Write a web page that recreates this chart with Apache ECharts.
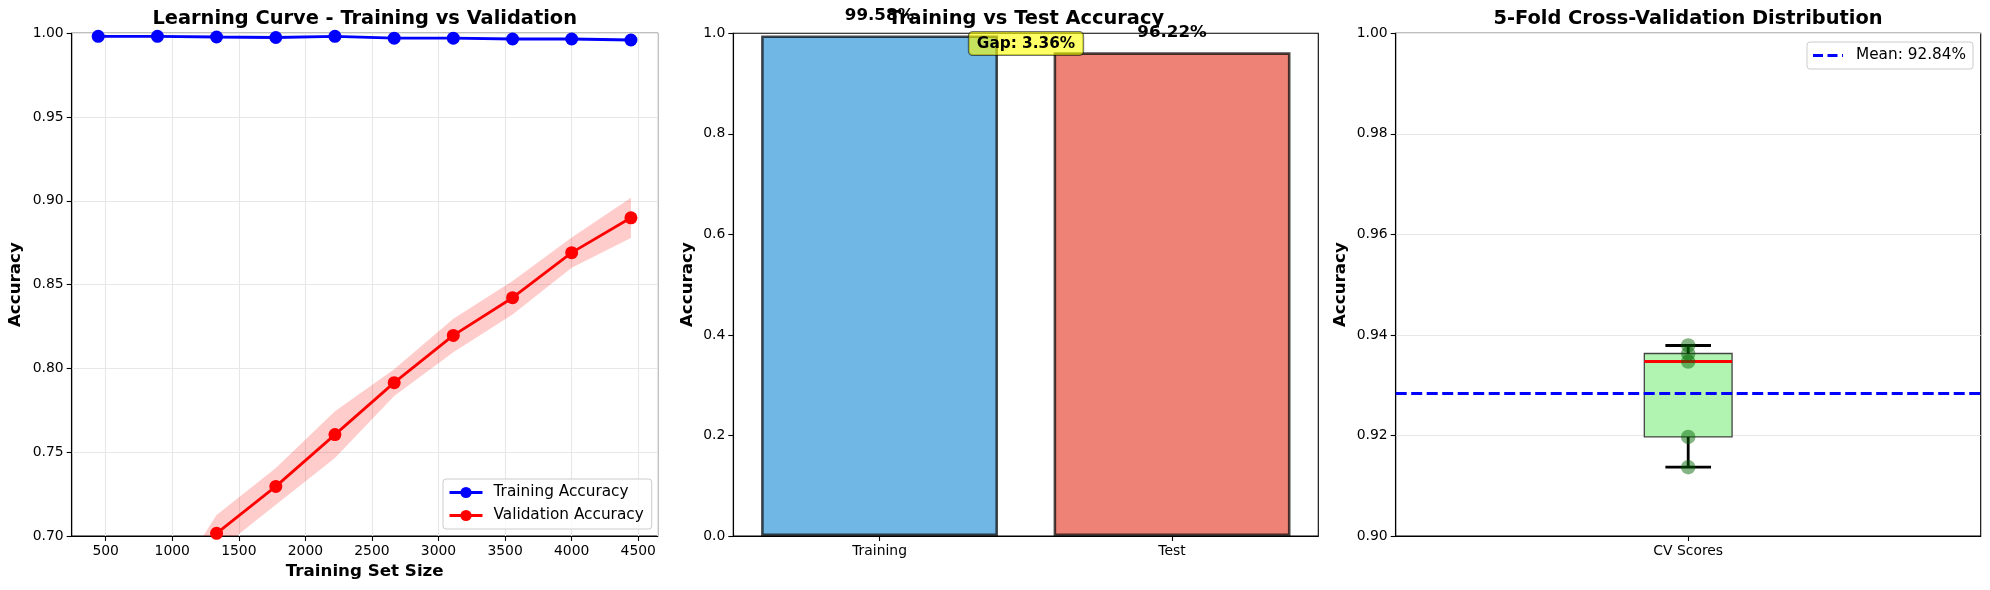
<!DOCTYPE html>
<html>
<head>
<meta charset="utf-8">
<title>Model accuracy overview</title>
<script src="https://cdn.jsdelivr.net/npm/echarts@6.0.0/dist/echarts.min.js"></script>
<style>
  html, body { margin: 0; padding: 0; background: #fff; }
  #main { width: 1990px; height: 590px; }
</style>
</head>
<body>
<div id="main"></div>
<script>
// learning curve
var trainSizes = [444, 889, 1333, 1778, 2222, 2667, 3111, 3556, 4000, 4445];
var trainMean = [0.9982, 0.9982, 0.9978, 0.9975, 0.9982, 0.9971, 0.9971, 0.9966, 0.9966, 0.9960];
var trainStd = [0.0008, 0.0006, 0.0006, 0.0005, 0.0004, 0.0005, 0.0004, 0.0004, 0.0004, 0.0005];
var valMean = [0.585, 0.645, 0.7016, 0.7296, 0.7605, 0.7915, 0.8197, 0.8422, 0.8691, 0.8899];
var valStd = [0.012, 0.012, 0.011, 0.011, 0.014, 0.008, 0.010, 0.010, 0.009, 0.012];

// training vs test
var barCategories = ['Training', 'Test'];
var barValues = [0.9958, 0.9622];

// 5 fold cv
var cvCategory = ['CV Scores'];
var cvScores = [0.9137, 0.9197, 0.9347, 0.9363, 0.9379];
var cvMean = 0.9284;

var FONT = 'DejaVu Sans';

function pairs(xs, ys) {
    return xs.map(function (x, i) { return [x, ys[i]]; });
}

function percentile(arr, p) {
    var s = arr.slice().sort(function (a, b) { return a - b; });
    var pos = (s.length - 1) * p, lo = Math.floor(pos), hi = Math.ceil(pos);
    return s[lo] + (s[hi] - s[lo]) * (pos - lo);
}

// shaded +-std band, one polygon through the axis scale
function band(mean, std, color) {
    var rows = trainSizes.map(function (x, i) { return [x, mean[i] - std[i], mean[i] + std[i]]; });
    return {
        type: 'custom', xAxisIndex: 0, yAxisIndex: 0, silent: true, clip: true, z: 1,
        data: rows,
        renderItem: function (params, api) {
            if (params.dataIndex !== 0) return;
            var top = rows.map(function (r) { return api.coord([r[0], r[2]]); });
            var bottom = rows.map(function (r) { return api.coord([r[0], r[1]]); }).reverse();
            var cs = params.coordSys;
            return {
                type: 'polygon',
                shape: { points: top.concat(bottom) },
                style: { fill: color },
                clipPath: { type: 'rect', shape: { x: cs.x, y: cs.y, width: cs.width, height: cs.height } }
            };
        }
    };
}

function axisBase(extra) {
    var a = {
        axisLine: { show: true, onZero: false, lineStyle: { color: '#000', width: 1.1 } },
        axisTick: { show: true, length: 5, lineStyle: { color: '#000', width: 1.1 } },
        axisLabel: { color: '#000', fontSize: 13.9, fontFamily: FONT, margin: 8 },
        splitLine: { show: false },
        nameTextStyle: { color: '#000', fontSize: 16.7, fontWeight: 'bold', fontFamily: FONT }
    };
    for (var k in extra) {
        if (typeof extra[k] === 'object' && a[k] && !Array.isArray(extra[k])) {
            a[k] = Object.assign({}, a[k], extra[k]);
        } else {
            a[k] = extra[k];
        }
    }
    return a;
}

var gridLine = { show: true, lineStyle: { color: '#e7e7e7', width: 1.1 } };
var meanLabel = 'Mean: ' + (cvMean * 100).toFixed(2) + '%';
var gapText = 'Gap: ' + ((barValues[0] - barValues[1]) * 100).toFixed(2) + '%';

var boxStats = [[0,
    Math.min.apply(null, cvScores),
    percentile(cvScores, 0.25),
    percentile(cvScores, 0.5),
    percentile(cvScores, 0.75),
    Math.max.apply(null, cvScores)
]];

var myChart = echarts.init(document.getElementById('main'));

var titleStyle = { color: '#000', fontSize: 19.4, fontWeight: 'bold', fontFamily: FONT };

var option = {
    animation: false,
    backgroundColor: '#fff',
    title: [
        { text: 'Learning Curve - Training vs Validation', left: 364.7, top: 9.5, textAlign: 'center', padding: 0, textStyle: titleStyle },
        { text: 'Training vs Test Accuracy', left: 1026, top: 9.5, textAlign: 'center', padding: 0, textStyle: titleStyle },
        { text: '5-Fold Cross-Validation Distribution', left: 1688, top: 9.5, textAlign: 'center', padding: 0, textStyle: titleStyle }
    ],
    grid: [
        { left: 71.7, top: 33.3, width: 586, height: 502.7, show: true, borderColor: '#000', borderWidth: 1.1, backgroundColor: 'transparent' },
        { left: 733.3, top: 33.3, width: 585, height: 502.7, show: true, borderColor: '#000', borderWidth: 1.1, backgroundColor: 'transparent' },
        { left: 1395.7, top: 33.3, width: 585, height: 502.7, show: true, borderColor: '#000', borderWidth: 1.1, backgroundColor: 'transparent' }
    ],
    legend: [
        {
            data: ['Training Accuracy', 'Validation Accuracy'],
            orient: 'vertical', left: 443, top: 479, padding: [6, 8, 6, 5],
            itemWidth: 33, itemHeight: 14, itemGap: 8,
            lineStyle: { width: 3 },
            borderColor: '#cccccc', borderWidth: 1, borderRadius: 3,
            backgroundColor: 'rgba(255,255,255,0.8)',
            textStyle: { color: '#000', fontSize: 15.3, fontFamily: FONT, padding: [0, 0, 0, 6] }
        },
        {
            data: [{ name: meanLabel, icon: 'path://M0,0H10V3H0Z M14.5,0H24.5V3H14.5Z M29,0H30V3H29Z' }],
            left: 1807, top: 42, padding: [6, 7, 6, 6],
            itemWidth: 30, itemHeight: 3,
            borderColor: '#cccccc', borderWidth: 1, borderRadius: 3,
            backgroundColor: 'rgba(255,255,255,0.8)',
            textStyle: { color: '#000', fontSize: 15.3, fontFamily: FONT, padding: [0, 0, 0, 8] }
        }
    ],
    xAxis: [
        axisBase({
            type: 'value', gridIndex: 0, min: 245, max: 4646, splitNumber: 9,
            name: 'Training Set Size', nameLocation: 'middle', nameGap: 25,
            axisLabel: { showMinLabel: false, showMaxLabel: false, formatter: function (v) { return String(v); } },
            splitLine: gridLine
        }),
        axisBase({
            type: 'category', gridIndex: 1, data: barCategories,
            axisTick: { alignWithLabel: true }
        }),
        axisBase({
            type: 'category', gridIndex: 2, data: cvCategory,
            axisTick: { alignWithLabel: true }
        })
    ],
    yAxis: [
        axisBase({
            type: 'value', gridIndex: 0, min: 0.70, max: 1.00, interval: 0.05,
            name: 'Accuracy', nameLocation: 'middle', nameRotate: 90, nameGap: 48,
            axisLabel: { formatter: function (v) { return v.toFixed(2); } },
            splitLine: gridLine
        }),
        axisBase({
            type: 'value', gridIndex: 1, min: 0, max: 1, interval: 0.2,
            name: 'Accuracy', nameLocation: 'middle', nameRotate: 90, nameGap: 37,
            axisLabel: { formatter: function (v) { return v.toFixed(1); } }
        }),
        axisBase({
            type: 'value', gridIndex: 2, min: 0.90, max: 1.00, interval: 0.02,
            name: 'Accuracy', nameLocation: 'middle', nameRotate: 90, nameGap: 47,
            axisLabel: { formatter: function (v) { return v.toFixed(2); } },
            splitLine: gridLine
        })
    ],
    graphic: [{
        type: 'text', x: 1026, y: 43.6, z: 100,
        style: {
            text: gapText, align: 'center', verticalAlign: 'middle',
            fill: '#000', font: 'bold 15.3px "DejaVu Sans"',
            backgroundColor: 'rgba(255,255,0,0.6)',
            borderColor: 'rgba(0,0,0,0.55)', borderWidth: 1, borderRadius: 4,
            padding: [4, 8, 4, 8]
        }
    }],
    series: [
        band(trainMean, trainStd, 'rgba(0,0,255,0.2)'),
        {
            name: 'Training Accuracy', type: 'line', xAxisIndex: 0, yAxisIndex: 0, z: 3,
            data: pairs(trainSizes, trainMean),
            symbol: 'circle', symbolSize: 13,
            itemStyle: { color: '#0000ff' },
            lineStyle: { color: '#0000ff', width: 2.8 }
        },
        band(valMean, valStd, 'rgba(255,0,0,0.2)'),
        {
            name: 'Validation Accuracy', type: 'line', xAxisIndex: 0, yAxisIndex: 0, z: 3,
            data: pairs(trainSizes, valMean),
            symbol: 'circle', symbolSize: 13,
            itemStyle: { color: '#ff0000' },
            lineStyle: { color: '#ff0000', width: 2.8 }
        },
        {
            type: 'bar', xAxisIndex: 1, yAxisIndex: 1, barWidth: '81%',
            data: [
                { value: barValues[0], itemStyle: { color: '#71b7e6' } },
                { value: barValues[1], itemStyle: { color: '#ee8276' } }
            ],
            itemStyle: { borderColor: 'rgba(0,0,0,0.7)', borderWidth: 2.6 },
            label: {
                show: true, position: 'top', distance: 11,
                color: '#000', fontSize: 16.7, fontWeight: 'bold', fontFamily: FONT,
                formatter: function (p) { return (p.value * 100).toFixed(2) + '%'; }
            }
        },
        {
            type: 'custom', xAxisIndex: 2, yAxisIndex: 2, silent: true, z: 2,
            data: boxStats,
            renderItem: function (params, api) {
                var bandW = api.size([1, 0])[0];
                var half = bandW * 0.075, cap = bandW * 0.039;
                var pMin = api.coord([api.value(0), api.value(1)]);
                var pQ1 = api.coord([api.value(0), api.value(2)]);
                var pMed = api.coord([api.value(0), api.value(3)]);
                var pQ3 = api.coord([api.value(0), api.value(4)]);
                var pMax = api.coord([api.value(0), api.value(5)]);
                var cx = pMed[0];
                var black = { stroke: '#000', lineWidth: 2.8 };
                return {
                    type: 'group',
                    children: [
                        { type: 'rect', shape: { x: cx - half, y: pQ3[1], width: 2 * half, height: pQ1[1] - pQ3[1] },
                          style: { fill: '#b1f3b1', stroke: '#444', lineWidth: 1.3 } },
                        { type: 'line', shape: { x1: cx, y1: pQ1[1], x2: cx, y2: pMin[1] }, style: black },
                        { type: 'line', shape: { x1: cx, y1: pQ3[1], x2: cx, y2: pMax[1] }, style: black },
                        { type: 'line', shape: { x1: cx - cap, y1: pMin[1], x2: cx + cap, y2: pMin[1] }, style: black },
                        { type: 'line', shape: { x1: cx - cap, y1: pMax[1], x2: cx + cap, y2: pMax[1] }, style: black },
                        { type: 'line', shape: { x1: cx - half, y1: pMed[1], x2: cx + half, y2: pMed[1] },
                          style: { stroke: '#ff0000', lineWidth: 3 } }
                    ]
                };
            }
        },
        {
            type: 'scatter', xAxisIndex: 2, yAxisIndex: 2, z: 5,
            data: cvScores.map(function (v) { return [0, v]; }),
            symbolSize: 14.5,
            itemStyle: { color: 'rgba(0,100,0,0.6)' }
        },
        {
            name: meanLabel, type: 'line', xAxisIndex: 2, yAxisIndex: 2, z: 4,
            data: [[0, cvMean]], symbol: 'none',
            itemStyle: { color: '#0000ff' },
            lineStyle: { color: '#0000ff', width: 2.8, type: [11, 4.5] },
            markLine: {
                silent: true, symbol: 'none', precision: 6,
                label: { show: false },
                lineStyle: { color: '#0000ff', width: 2.8, type: [11, 4.5] },
                data: [{ yAxis: cvMean }]
            }
        }
    ]
};

myChart.setOption(option);
</script>
</body>
</html>
